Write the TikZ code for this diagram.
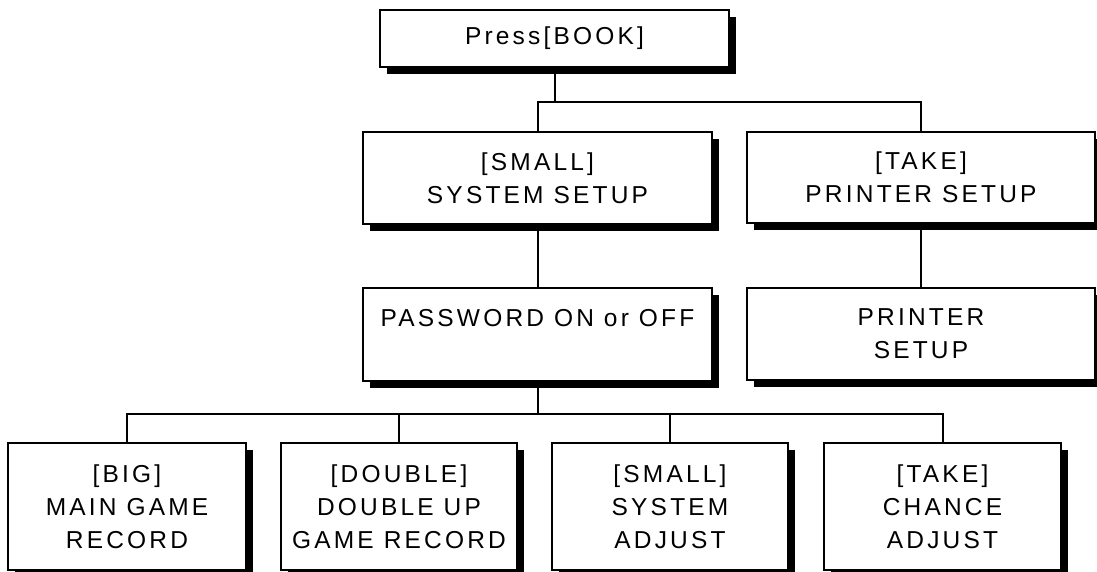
\documentclass[tikz,border=0pt]{standalone}
\usepackage{fontspec}
\setmainfont{Liberation Sans}[LetterSpace=13]
\usetikzlibrary{shadows}
\begin{document}
\begin{tikzpicture}[x=1pt,y=-1pt,
  menubox/.style={draw=black,line width=2pt,fill=white,inner sep=0pt,align=center,
    font=\fontsize{24.5}{33}\selectfont,
    drop shadow={shadow xshift=7pt,shadow yshift=-7pt,fill=black,opacity=1}},
  link/.style={draw=black,line width=2pt}]
\useasboundingbox (0,0) rectangle (1097,572);
% boxes
\node[menubox,minimum width=349pt,minimum height=57pt] (top) at (554.5,38.5) {Press[BOOK]};
\node[menubox,minimum width=349pt,minimum height=92pt] (sys) at (537.5,178) {[SMALL]\\SYSTEM SETUP};
\node[menubox,minimum width=348pt,minimum height=91pt] (prn) at (921,177.5) {[TAKE]\\PRINTER SETUP};
\node[menubox,minimum width=349pt,minimum height=93pt] (pw) at (537.5,334.5) {PASSWORD ON or OFF\\\phantom{X}};
\node[menubox,minimum width=348pt,minimum height=92pt] (ps) at (921,334) {PRINTER\\SETUP};
\node[menubox,minimum width=238pt,minimum height=127pt] (b1) at (127,506.5) {[BIG]\\MAIN GAME\\RECORD};
\node[menubox,minimum width=236pt,minimum height=127pt] (b2) at (399,506.5) {[DOUBLE]\\DOUBLE UP\\GAME RECORD};
\node[menubox,minimum width=236pt,minimum height=127pt] (b3) at (670,506.5) {[SMALL]\\SYSTEM\\ADJUST};
\node[menubox,minimum width=237pt,minimum height=127pt] (b4) at (942.5,506.5) {[TAKE]\\CHANCE\\ADJUST};
% junctions
\coordinate (j1) at (554.5,102);
\coordinate (j2) at (537.5,414);
% connectors
\draw[link] (top.south) -- (j1);
\draw[link] (sys.north) |- (j1) -| (prn.north);
\draw[link] (sys.south) -- (pw.north);
\draw[link] (prn.south) -- (ps.north);
\draw[link] (pw.south) -- (j2);
\draw[link] (b1.north) |- (j2) -| (b4.north);
\draw[link] (b2.north) -- (b2.north |- j2);
\draw[link] (b3.north) -- (b3.north |- j2);
\end{tikzpicture}
\end{document}
